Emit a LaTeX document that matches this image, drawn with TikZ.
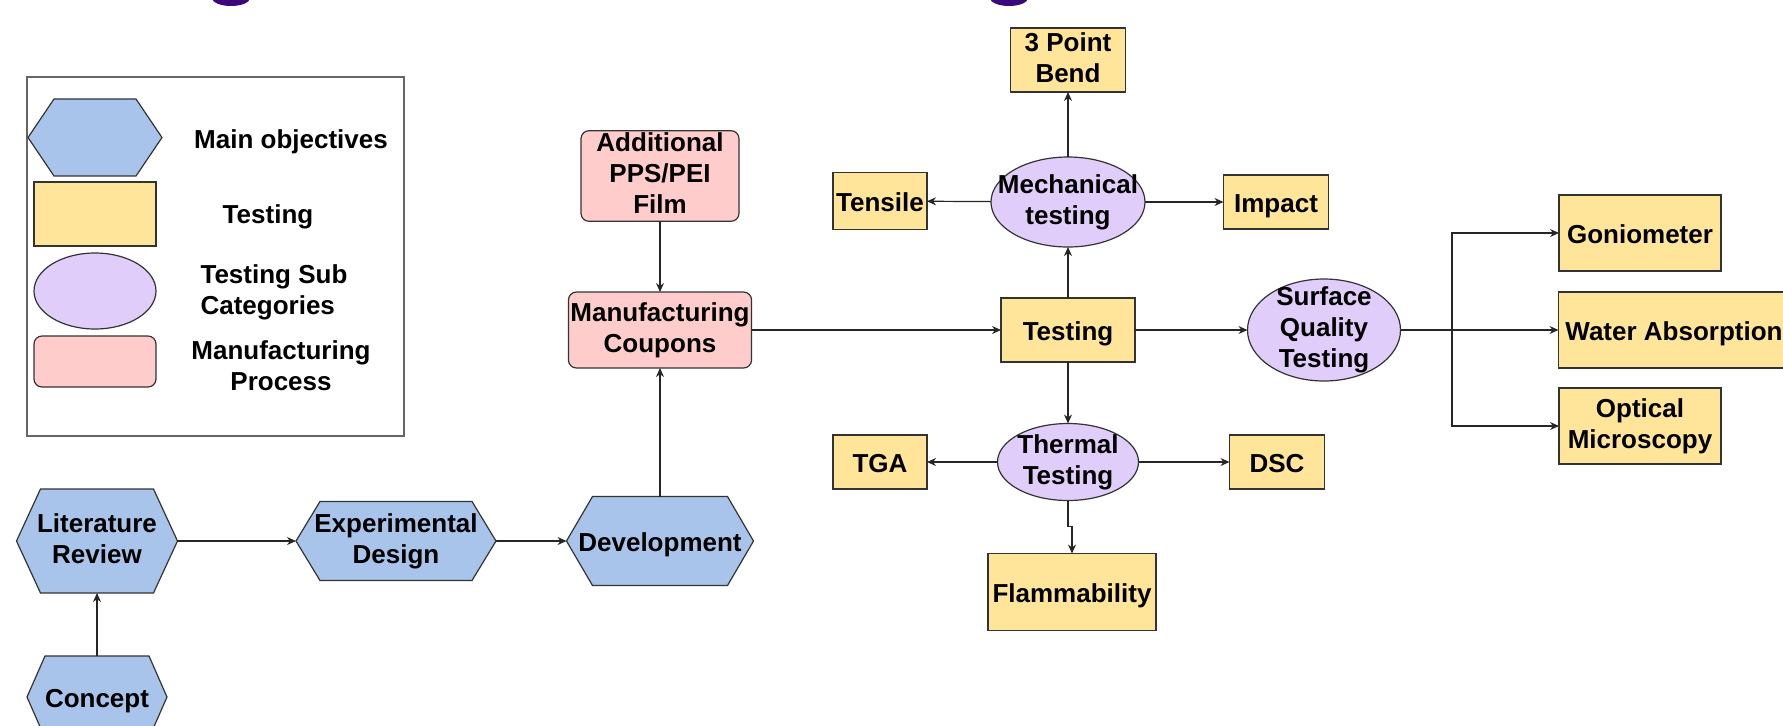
\documentclass[tikz,border=0pt]{standalone}
\usepackage{fontspec}
\setmainfont{Liberation Sans}
\usetikzlibrary{arrows.meta,shapes.geometric}
\definecolor{hexblue}{RGB}{169,196,235}
\definecolor{testyel}{RGB}{255,229,153}
\definecolor{subpur}{RGB}{225,205,250}
\definecolor{mfgpink}{RGB}{255,204,204}
\definecolor{ttlpur}{RGB}{58,8,120}
\newcommand{\tstrut}{\rule{0pt}{1.0em}}
\tikzset{
  txt/.style={font=\fontsize{13}{15.5}\selectfont\bfseries,align=center,inner sep=1pt,outer sep=0pt,
    execute at begin node=\tstrut,text depth=2.9pt},
  sz/.style 2 args={minimum width=#1*0.5pt,minimum height=#2*0.5pt},
  hexa/.style={fill=hexblue,draw=black!80,line width=0.6pt},
  ella/.style={fill=subpur,draw=black!80,line width=0.6pt},
  testbox/.style={txt,rectangle,fill=testyel,draw=black!80,line width=0.6pt},
  mfgbox/.style={txt,rectangle,rounded corners=4pt,fill=mfgpink,draw=black!80,line width=0.6pt},
  arr/.style={-{Stealth[length=4.5pt,width=4pt]},line width=0.6pt,draw=black!85}
}
% name, centre, width, height, inset, text
\newcommand{\hexobj}[6]{%
  \filldraw[hexa] (#2) ++({-#3/2},0) -- ++(#5,{-#4/2}) -- ++({#3-2*#5},0) -- ++(#5,{#4/2})
  -- ++(-#5,{#4/2}) -- ++({2*#5-#3},0) -- cycle;
  \node[txt,sz={#3}{#4}] (#1) at (#2) {#6};}
% name, centre, width, height, text
\newcommand{\ellobj}[5]{%
  \filldraw[ella] (#2) ellipse ({#3*0.25pt} and {#4*0.25pt});
  \node[txt,sz={#3}{#4}] (#1) at (#2) {#5};}

\begin{document}
\begin{tikzpicture}[x=0.5pt,y=-0.5pt]
\useasboundingbox (0,0) rectangle (1783,725);
\fill[ttlpur] (231,-2) ellipse (9.5pt and 4pt); %title cut off
\fill[ttlpur] (1009,-2) ellipse (9.5pt and 4pt);

%legend
\draw[black!60,line width=0.8pt] (27,77) rectangle (404,436);
\hexobj{lghex}{95,137.5}{134}{77}{26}{}
\node[testbox,sz={122}{64}] (lgrect) at (95,214) {};
\node[ella,ellipse,inner sep=0pt,sz={122}{76}] (lgell) at (95,291) {};
\node[mfgbox,sz={122}{51}] (lground) at (95,361.5) {};
\node[txt] (lgmain) at (291,138) {Main objectives};
\node[txt] (lgtest) at (268,213) {Testing};
\node[txt,align=left] (lgsub) at (274,292) {Testing Sub\\Categories};
\node[txt] (lgmfg) at (281,368) {Manufacturing\\Process};

%main objectives
\hexobj{litrev}{97,541}{161}{104}{24}{Literature\\Review}
\hexobj{concept}{97,697}{140}{82}{18}{Concept}
\hexobj{expdes}{396,541}{200}{79}{24}{Experimental\\Design}
\hexobj{dev}{660,541}{187}{89}{26}{Development}

%manufacturing
\node[mfgbox,sz={158}{90}] (addfilm) at (660,176) {Additional\\PPS/PEI\\Film};
\node[mfgbox,sz={183}{76}] (coupons) at (660,330) {Manufacturing\\Coupons};

%testing
\node[testbox,sz={134}{64}] (testing) at (1068,330) {Testing};
\ellobj{mech}{1068,202}{154}{90}{Mechanical\\testing}
\ellobj{thermal}{1068,462}{141}{77}{Thermal\\Testing}
\ellobj{surface}{1324,330}{153}{102}{Surface\\Quality\\Testing}
\node[testbox,sz={115}{64}] (bend) at (1068,60) {3 Point\\Bend};
\node[testbox,sz={94}{57}] (tensile) at (880,201) {Tensile};
\node[testbox,sz={105}{54}] (impact) at (1276,202) {Impact};
\node[testbox,sz={94}{54}] (tga) at (880,462) {TGA};
\node[testbox,sz={95}{54}] (dsc) at (1277,462) {DSC};
\node[testbox,sz={168}{77}] (flam) at (1072,592) {Flammability};
\node[testbox,sz={162}{76}] (gonio) at (1640,233) {Goniometer};
\node[testbox,sz={231}{76}] (water) at (1674,330) {Water Absorption};
\node[testbox,sz={162}{76}] (optic) at (1640,426) {Optical\\Microscopy};

%connectors
\draw[arr] (concept) -- (litrev);
\draw[arr] (litrev) -- (expdes);
\draw[arr] (expdes) -- (dev);
\draw[arr] (dev) -- (coupons);
\draw[arr] (addfilm) -- (coupons);
\draw[arr] (coupons) -- (testing);
\draw[arr] (testing) -- (mech);
\draw[arr] (mech) -- (bend);
\draw[arr] (mech) -- (tensile);
\draw[arr] (mech) -- (impact);
\draw[arr] (testing) -- (thermal);
\draw[arr] (thermal) -- (tga);
\draw[arr] (thermal) -- (dsc);
\draw[arr] (thermal.south) -- ++(0,26) -| (flam.north); %small jog
\draw[arr] (testing) -- (surface);
\coordinate (fork) at (1452,330);
\draw[arr] (surface) -- (water);
\draw[arr] (fork) |- (gonio.west);
\draw[arr] (fork) |- (optic.west);
\end{tikzpicture}
\end{document}
